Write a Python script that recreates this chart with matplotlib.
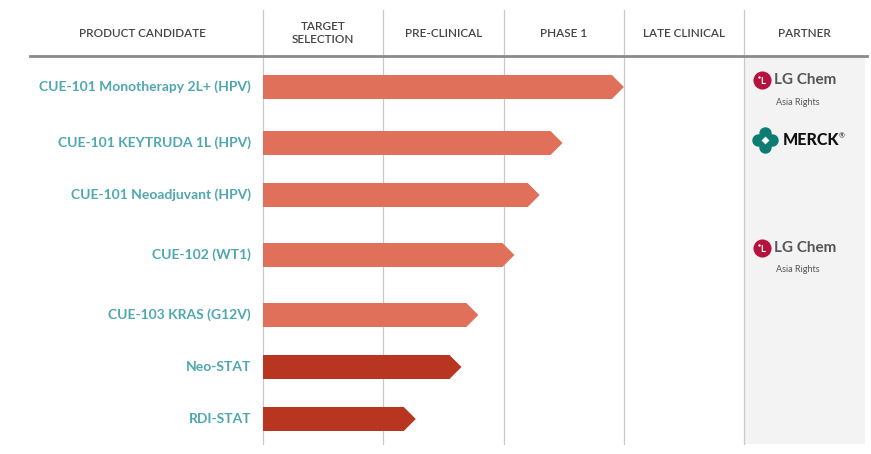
import matplotlib.pyplot as plt
from matplotlib.patches import Polygon, Rectangle

# pipeline data (progress in stage units, 1 = one column)
candidates = ["CUE-101 Monotherapy 2L+ (HPV)", "CUE-101 KEYTRUDA 1L (HPV)",
              "CUE-101 Neoadjuvant (HPV)", "CUE-102 (WT1)", "CUE-103 KRAS (G12V)",
              "Neo-STAT", "RDI-STAT"]
progress = [3.0, 2.49, 2.30, 2.09, 1.79, 1.65, 1.27]
dark_bar = [False, False, False, False, False, True, True]
stages = ["TARGET\nSELECTION", "PRE-CLINICAL", "PHASE 1", "LATE CLINICAL"]

# layout (pixel rows, top-down)
row_y = [87, 143, 195, 255, 315, 367, 419]

LIGHT = "#e0705a"
DARK = "#b83522"
TEAL = "#4fa7b0"
HEAD = "#444444"
FONT = "Lato"

fig = plt.figure(figsize=(8.71, 4.54), dpi=100)
ax = fig.add_axes([263 / 871, 1 - 444 / 454, 601.5 / 871, (444 - 57) / 454])
ax.set_xlim(0, 5)
ax.set_ylim(444, 57)
ax.axis("off")

px = 5 / 601.5  # one pixel in x data units

# partner column background
ax.add_patch(Rectangle((4, 57), 1, 387, color="#f3f3f3", zorder=0, lw=0))

# column separators
for xv in range(5):
    ax.plot([xv, xv], [10, 444], color="#c9c9c9", lw=0.9, zorder=1, clip_on=False)

# header rule
ax.plot([(30 - 263) * px, 5.02], [56, 56], color="#8a8a8a", lw=2.0, clip_on=False, zorder=2)

# headers
ax.text(-1.0, 33, "PRODUCT CANDIDATE", ha="center", va="center", fontsize=8.5,
        color=HEAD, family=FONT, fontweight="semibold", clip_on=False)
for i, s in enumerate(stages):
    ax.text(i + 0.5, 33, s, ha="center", va="center", fontsize=8.5, color=HEAD,
            family=FONT, fontweight="semibold", linespacing=1.15, clip_on=False)
ax.text(4.5, 33, "PARTNER", ha="center", va="center", fontsize=8.5, color=HEAD,
        family=FONT, fontweight="semibold", clip_on=False)

# arrow bars
h = 12
tip = 12 * px
for name, v, dk, y in zip(candidates, progress, dark_bar, row_y):
    pts = [(0, y - h), (v - tip, y - h), (v, y), (v - tip, y + h), (0, y + h)]
    ax.add_patch(Polygon(pts, closed=True, color=DARK if dk else LIGHT, lw=0, zorder=3))
    ax.text(-12 * px, y, name, ha="right", va="center", fontsize=10,
            fontweight="bold", color=TEAL, family=FONT, clip_on=False)


# partner logos
def lg_chem(y):
    cx = (762 - 263) * px
    ax.scatter([cx], [y], s=170, color="#b5123d", zorder=4, lw=0)
    ax.text(cx + 1 * px, y + 1, "L", color="white", fontsize=7, fontweight="bold",
            ha="center", va="center", family=FONT, zorder=5)
    ax.scatter([cx - 3 * px], [y - 3], s=3, color="white", zorder=5, lw=0)
    ax.text((774 - 263) * px, y, "LG Chem", fontsize=11, color="#555555",
            ha="left", va="center", family=FONT, fontweight="bold", zorder=5)
    ax.text((798 - 263) * px, y + 22, "Asia Rights", fontsize=6.5, color="#555555",
            ha="center", va="center", family=FONT, zorder=5)


def merck(y):
    cx = (765 - 263) * px
    for dx, dy in [(-7, 0), (7, 0), (0, -7), (0, 7)]:
        ax.scatter([cx + dx * px], [y + dy], s=80, color="#0d7d74", zorder=4, lw=0)
    ax.scatter([cx], [y], s=16, marker="D", color="white", zorder=5, lw=0)
    ax.text((783 - 263) * px, y, "MERCK", fontsize=11.5, color="#111111",
            ha="left", va="center", family=FONT, fontweight="black", zorder=5)
    ax.text((842 - 263) * px, y - 4, "®", fontsize=5, color="#111111",
            ha="center", va="center", family=FONT, zorder=5)


lg_chem(80)
merck(140)
lg_chem(248)

fig.savefig("out.png", dpi=100, facecolor="white")
